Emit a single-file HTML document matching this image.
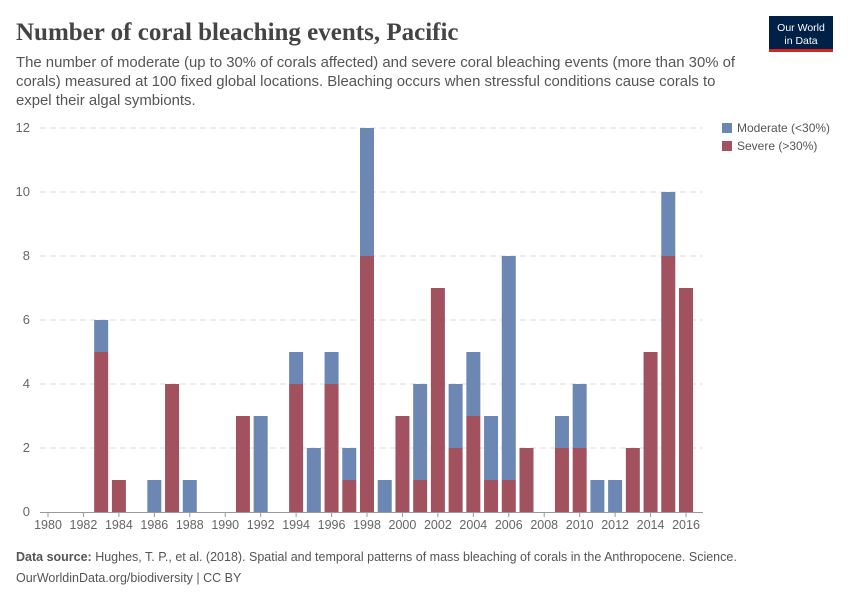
<!DOCTYPE html>
<html><head><meta charset="utf-8"><style>
body{margin:0;background:#fff;font-family:"Liberation Sans",sans-serif}
#c{position:relative;width:850px;height:600px}
</style></head><body>
<div id="c">
<svg width="850" height="600" xmlns="http://www.w3.org/2000/svg" id="svg">
<text x="16" y="40" font-family="Liberation Serif,serif" font-size="25" font-weight="bold" fill="#444">Number of coral bleaching events, Pacific</text>
<g font-size="14.9" fill="#555">
<text x="16" y="67">The number of moderate (up to 30% of corals affected) and severe coral bleaching events (more than 30% of</text>
<text x="16" y="86">corals) measured at 100 fixed global locations. Bleaching occurs when stressful conditions cause corals to</text>
<text x="16" y="105">expel their algal symbionts.</text>
</g>
<g>
<rect x="769" y="16" width="64" height="36" fill="#002147"/>
<rect x="769" y="49" width="64" height="3" fill="#ce261e"/>
<text x="801" y="31" font-size="10.5" fill="#fff" text-anchor="middle">Our World</text>
<text x="801" y="44" font-size="10.5" fill="#fff" text-anchor="middle">in Data</text>
</g>
<g id="grid"></g><g id="bars"></g><g id="xaxis"></g>
<g>
<rect x="722" y="123" width="10" height="10" fill="#6d87b5"/>
<text x="737" y="132" font-size="12" fill="#555">Moderate (&lt;30%)</text>
<rect x="722" y="141" width="10" height="10" fill="#a2525e"/>
<text x="737" y="150" font-size="12" fill="#555">Severe (&gt;30%)</text>
</g>
<text x="16" y="561" font-size="12.5" fill="#555"><tspan font-weight="bold">Data source:</tspan> Hughes, T. P., et al. (2018). Spatial and temporal patterns of mass bleaching of corals in the Anthropocene. Science.</text>
<text x="16" y="582" font-size="12.5" fill="#555">OurWorldinData.org/biodiversity | CC BY</text>
</svg>
</div>
<script>
const years=[1980,1981,1982,1983,1984,1985,1986,1987,1988,1989,1990,1991,1992,1993,1994,1995,1996,1997,1998,1999,2000,2001,2002,2003,2004,2005,2006,2007,2008,2009,2010,2011,2012,2013,2014,2015,2016];
const severe=[0,0,0,5,1,0,0,4,0,0,0,3,0,0,4,0,4,1,8,0,3,1,7,2,3,1,1,2,0,2,2,0,0,2,5,8,7];
const moderate=[0,0,0,1,0,0,1,0,1,0,0,0,3,0,1,2,1,1,4,1,0,3,0,2,2,2,7,0,0,1,2,1,1,0,0,2,0];
const yTicks=[0,2,4,6,8,10,12];
const xTicks=[1980,1982,1984,1986,1988,1990,1992,1994,1996,1998,2000,2002,2004,2006,2008,2010,2012,2014,2016];
const NS="http://www.w3.org/2000/svg";
const xs=y=>48+(y-1980)*(686-48)/36;
const ys=v=>512-v*32;
function mk(t,a,p){const e=document.createElementNS(NS,t);for(const k in a)e.setAttribute(k,a[k]);p.appendChild(e);return e;}
const grid=document.getElementById('grid'),bars=document.getElementById('bars'),xa=document.getElementById('xaxis');
yTicks.forEach(v=>{
 if(v>0){const l=mk('line',{x1:40,x2:703,y1:ys(v),y2:ys(v),stroke:'#ddd','stroke-dasharray':'6,4'},grid);
 
 }
 const t=mk('text',{x:30,y:ys(v)+4,'font-size':13,fill:'#666','text-anchor':'end'},grid);t.textContent=v;
 
 
});
const ax=mk('line',{x1:40,x2:703,y1:512.5,y2:512.5,stroke:'#999'},xa);


xTicks.forEach(y=>{
 mk('line',{x1:xs(y),x2:xs(y),y1:512,y2:517,stroke:'#999'},xa);
 const t=mk('text',{x:xs(y),y:529,'font-size':12.5,fill:'#666','text-anchor':'middle'},xa);t.textContent=y;
 
 
});
const bw=14;
years.forEach((y,i)=>{
 if(severe[i]>0){const r=mk('rect',{x:xs(y)-bw/2,y:ys(severe[i]),width:bw,height:severe[i]*32,fill:'#a2525e'},bars);
 
 }
 if(moderate[i]>0){const r=mk('rect',{x:xs(y)-bw/2,y:ys(severe[i]+moderate[i]),width:bw,height:moderate[i]*32,fill:'#6d87b5'},bars);
 
 }
});
</script>
</body></html>
